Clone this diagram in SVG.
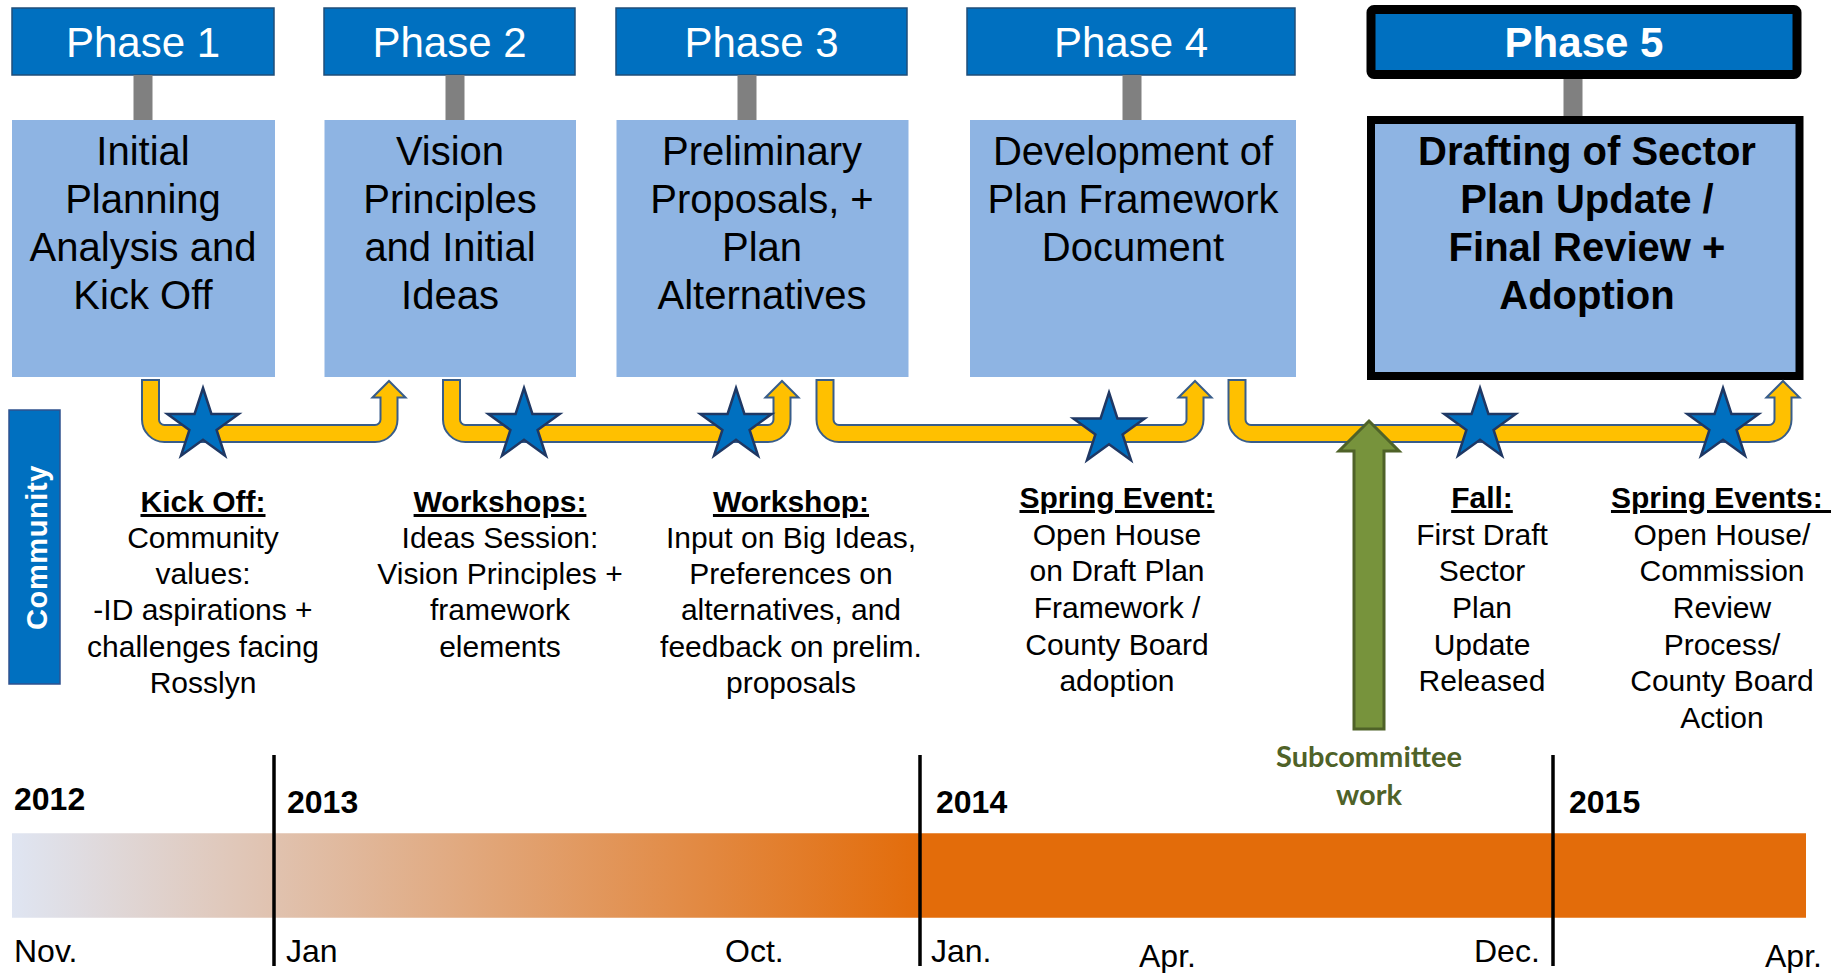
<svg xmlns="http://www.w3.org/2000/svg" width="1835" height="973" viewBox="0 0 1835 973">
<style>
.hdr{fill:#0070C0;stroke:#1F4E79;stroke-width:1.5}
.box{fill:#8EB4E3}
.stem{fill:#808080}
.ht{font-family:"Liberation Sans",Arial,sans-serif;font-size:42px;fill:#fff;text-anchor:middle}
.bt{font-family:"Liberation Sans",Arial,sans-serif;font-size:40px;fill:#000;text-anchor:middle}
.dt{font-family:"Liberation Sans",Arial,sans-serif;font-size:30px;fill:#000;text-anchor:middle}
.dh{font-weight:bold;text-decoration:underline}
.yr{font-family:"Liberation Sans",Arial,sans-serif;font-size:32px;font-weight:bold;fill:#000}
.mo{font-family:"Liberation Sans",Arial,sans-serif;font-size:32px;fill:#000}
.ao{fill:none;stroke:#385D8A;stroke-width:19}
.ay{fill:none;stroke:#FFC000;stroke-width:15}
.ah{fill:#FFC000;stroke:#385D8A;stroke-width:2}
.star{fill:#0070C0;stroke:#1F3864;stroke-width:2.5;stroke-linejoin:miter}
.vl{stroke:#000;stroke-width:3.5}
</style>
<defs>
<path id="star" d="M0,-37.5 L8.41,-11.57 L35.66,-11.59 L13.6,4.42 L22.04,30.34 L0,14.3 L-22.04,30.34 L-13.6,4.42 L-35.66,-11.59 L-8.41,-11.57 Z"/>
<linearGradient id="tl" gradientUnits="userSpaceOnUse" x1="12" y1="0" x2="920" y2="0">
<stop offset="0" stop-color="#DFE5F2"/>
<stop offset="1" stop-color="#E36C0A"/>
</linearGradient>
</defs>
<rect width="1835" height="973" fill="#fff"/>

<g id="phase1">
<rect class="hdr" x="12" y="8" width="262" height="67"/>
<text class="ht" x="143" y="57">Phase 1</text>
<rect class="stem" x="133.5" y="75" width="19" height="45"/>
<rect class="box" x="12" y="120" width="263" height="257"/>
<text class="bt" x="143" y="165">Initial</text>
<text class="bt" x="143" y="213">Planning</text>
<text class="bt" x="143" y="261">Analysis and</text>
<text class="bt" x="143" y="309">Kick Off</text>
</g>
<g id="phase2">
<rect class="hdr" x="324" y="8" width="251" height="67"/>
<text class="ht" x="449.5" y="57">Phase 2</text>
<rect class="stem" x="445.5" y="75" width="19" height="45"/>
<rect class="box" x="324.5" y="120" width="251.5" height="257"/>
<text class="bt" x="450" y="165">Vision</text>
<text class="bt" x="450" y="213">Principles</text>
<text class="bt" x="450" y="261">and Initial</text>
<text class="bt" x="450" y="309">Ideas</text>
</g>
<g id="phase3">
<rect class="hdr" x="616" y="8" width="291" height="67"/>
<text class="ht" x="761.5" y="57">Phase 3</text>
<rect class="stem" x="737.5" y="75" width="19" height="45"/>
<rect class="box" x="616.5" y="120" width="292" height="257"/>
<text class="bt" x="762" y="165">Preliminary</text>
<text class="bt" x="762" y="213">Proposals, +</text>
<text class="bt" x="762" y="261">Plan</text>
<text class="bt" x="762" y="309">Alternatives</text>
</g>
<g id="phase4">
<rect class="hdr" x="967" y="8" width="328" height="67"/>
<text class="ht" x="1131" y="57">Phase 4</text>
<rect class="stem" x="1122.5" y="75" width="19" height="45"/>
<rect class="box" x="970" y="120" width="326" height="257"/>
<text class="bt" x="1133" y="165">Development of</text>
<text class="bt" x="1133" y="213">Plan Framework</text>
<text class="bt" x="1133" y="261">Document</text>
</g>
<g id="phase5">
<rect x="1371" y="9.5" width="426" height="65" rx="3" fill="#0070C0" stroke="#000" stroke-width="9"/>
<text class="ht" x="1584" y="57" font-weight="bold">Phase 5</text>
<rect class="stem" x="1563.5" y="79" width="19" height="37"/>
<rect x="1371" y="120" width="428.5" height="256" fill="#8EB4E3" stroke="#000" stroke-width="8"/>
<text class="bt" x="1587" y="165" font-weight="bold">Drafting of Sector</text>
<text class="bt" x="1587" y="213" font-weight="bold">Plan Update /</text>
<text class="bt" x="1587" y="261" font-weight="bold">Final Review +</text>
<text class="bt" x="1587" y="309" font-weight="bold">Adoption</text>
</g>

<g id="connectors">
<g id="arrow1">
<path class="ao" d="M150.5,379 V419.5 A14,14 0 0 0 164.5,433.5 H375 A14,14 0 0 0 389,419.5 V396"/>
<polygon class="ah" points="372.5,397.5 389,381 405.5,397.5"/>
<path class="ay" d="M150.5,381 V419.5 A14,14 0 0 0 164.5,433.5 H375 A14,14 0 0 0 389,419.5 V394"/>
</g>
<g id="arrow2">
<path class="ao" d="M451.5,379 V419.5 A14,14 0 0 0 465.5,433.5 H768 A14,14 0 0 0 782,419.5 V396"/>
<polygon class="ah" points="765.5,397.5 782,381 798.5,397.5"/>
<path class="ay" d="M451.5,381 V419.5 A14,14 0 0 0 465.5,433.5 H768 A14,14 0 0 0 782,419.5 V394"/>
</g>
<g id="arrow3">
<path class="ao" d="M825,379 V419.5 A14,14 0 0 0 839,433.5 H1181 A14,14 0 0 0 1195,419.5 V396"/>
<polygon class="ah" points="1178.5,397.5 1195,381 1211.5,397.5"/>
<path class="ay" d="M825,381 V419.5 A14,14 0 0 0 839,433.5 H1181 A14,14 0 0 0 1195,419.5 V394"/>
</g>
<g id="arrow4">
<path class="ao" d="M1237,379 V419.5 A14,14 0 0 0 1251,433.5 H1769 A14,14 0 0 0 1783,419.5 V396"/>
<polygon class="ah" points="1766.5,397.5 1783,381 1799.5,397.5"/>
<path class="ay" d="M1237,381 V419.5 A14,14 0 0 0 1251,433.5 H1769 A14,14 0 0 0 1783,419.5 V394"/>
</g>
<polygon id="subcommittee-arrow" points="1369,421 1399,451 1384,451 1384,729 1354,729 1354,451 1339,451" fill="#77933C" stroke="#4F6228" stroke-width="3" stroke-linejoin="miter"/>
</g>

<g id="stars">
<use href="#star" class="star" x="203" y="425.5"/>
<use href="#star" class="star" x="524" y="425.5"/>
<use href="#star" class="star" x="736" y="425.5"/>
<use href="#star" class="star" x="1109" y="430"/>
<use href="#star" class="star" x="1480" y="425.5"/>
<use href="#star" class="star" x="1723" y="425.5"/>
</g>

<g id="community">
<rect x="9" y="410" width="51" height="274" fill="#0070C0" stroke="#2F528F" stroke-width="1.5"/>
<text transform="translate(46.5,547.5) rotate(-90)" x="0" y="0" text-anchor="middle" font-family="Liberation Sans, Arial, sans-serif" font-size="29" font-weight="bold" fill="#fff" letter-spacing="0.6">Community</text>
</g>

<g id="event1">
<text class="dt dh" x="203" y="512">Kick Off:</text>
<text class="dt" x="203" y="548">Community</text>
<text class="dt" x="203" y="584">values:</text>
<text class="dt" x="203" y="620">-ID aspirations +</text>
<text class="dt" x="203" y="657">challenges facing</text>
<text class="dt" x="203" y="693">Rosslyn</text>
</g>
<g id="event2">
<text class="dt dh" x="500" y="512">Workshops:</text>
<text class="dt" x="500" y="548">Ideas Session:</text>
<text class="dt" x="500" y="584">Vision Principles +</text>
<text class="dt" x="500" y="620">framework</text>
<text class="dt" x="500" y="657">elements</text>
</g>
<g id="event3">
<text class="dt dh" x="791" y="512">Workshop:</text>
<text class="dt" x="791" y="548">Input on Big Ideas,</text>
<text class="dt" x="791" y="584">Preferences on</text>
<text class="dt" x="791" y="620">alternatives, and</text>
<text class="dt" x="791" y="657">feedback on prelim.</text>
<text class="dt" x="791" y="693">proposals</text>
</g>
<g id="event4">
<text class="dt dh" x="1117" y="508">Spring Event:</text>
<text class="dt" x="1117" y="545">Open House</text>
<text class="dt" x="1117" y="581">on Draft Plan</text>
<text class="dt" x="1117" y="618">Framework /</text>
<text class="dt" x="1117" y="655">County Board</text>
<text class="dt" x="1117" y="691">adoption</text>
</g>
<g id="event5">
<text class="dt dh" x="1482" y="508">Fall:</text>
<text class="dt" x="1482" y="545">First Draft</text>
<text class="dt" x="1482" y="581">Sector</text>
<text class="dt" x="1482" y="618">Plan</text>
<text class="dt" x="1482" y="655">Update</text>
<text class="dt" x="1482" y="691">Released</text>
</g>
<g id="event6">
<text class="dt dh" x="1721" y="508" style="white-space:pre">Spring Events: </text>
<text class="dt" x="1722" y="545">Open House/</text>
<text class="dt" x="1722" y="581">Commission</text>
<text class="dt" x="1722" y="618">Review</text>
<text class="dt" x="1722" y="655">Process/</text>
<text class="dt" x="1722" y="691">County Board</text>
<text class="dt" x="1722" y="728">Action</text>
</g>

<g id="subcommittee-label" font-family="Lato, 'Open Sans', sans-serif" font-weight="bold" font-size="29" fill="#4F6228" text-anchor="middle">
<text x="1369" y="767">Subcommittee</text>
<text x="1369" y="805">work</text>
</g>

<g id="timeline">
<rect x="12" y="833" width="909" height="85" fill="url(#tl)"/>
<rect x="920" y="833" width="886" height="85" fill="#E36C0A"/>
<line x1="12" y1="833" x2="1806" y2="833" stroke="#fff" stroke-opacity="0.5" stroke-width="1"/>
<line x1="12" y1="918" x2="1806" y2="918" stroke="#fff" stroke-opacity="0.5" stroke-width="1"/>
<line class="vl" x1="274" y1="755" x2="274" y2="966"/>
<line class="vl" x1="920" y1="755" x2="920" y2="966"/>
<line class="vl" x1="1553" y1="755" x2="1553" y2="966"/>
<text class="yr" x="14" y="810">2012</text>
<text class="yr" x="287" y="813">2013</text>
<text class="yr" x="936" y="813">2014</text>
<text class="yr" x="1569" y="813">2015</text>
<text class="mo" x="14" y="962">Nov.</text>
<text class="mo" x="286" y="962">Jan</text>
<text class="mo" x="725" y="962">Oct.</text>
<text class="mo" x="931" y="962">Jan.</text>
<text class="mo" x="1139" y="967">Apr.</text>
<text class="mo" x="1474" y="962">Dec.</text>
<text class="mo" x="1765" y="967">Apr.</text>
</g>
</svg>
